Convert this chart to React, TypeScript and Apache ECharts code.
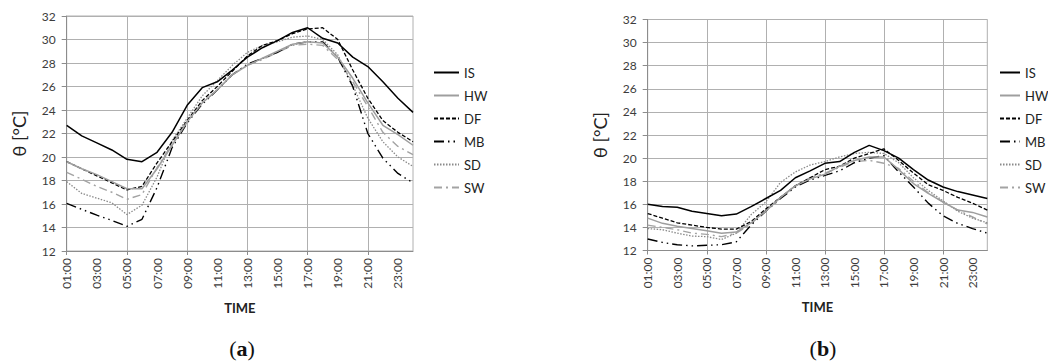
import React, { useEffect, useRef } from "react";
import * as echarts from "echarts";

// ---------- data ----------
const hours = [
  "01:00", "02:00", "03:00", "04:00", "05:00", "06:00", "07:00", "08:00",
  "09:00", "10:00", "11:00", "12:00", "13:00", "14:00", "15:00", "16:00",
  "17:00", "18:00", "19:00", "20:00", "21:00", "22:00", "23:00", "24:00",
];
const seriesNames = ["IS", "HW", "DF", "MB", "SD", "SW"];
const yMin = 12;
const yMax = 32;
const yStep = 2;

// (a)
const IS_A = [22.7, 21.8, 21.2, 20.6, 19.8, 19.6, 20.4, 22.1, 24.4, 25.9, 26.4, 27.4, 28.5, 29.3, 29.9, 30.6, 31.0, 30.1, 29.7, 28.5, 27.7, 26.4, 25.0, 23.8];
const HW_A = [19.6, 19.0, 18.5, 17.9, 17.3, 17.3, 19.0, 21.0, 23.0, 24.6, 25.7, 27.0, 27.8, 28.4, 29.0, 29.6, 29.8, 29.7, 28.5, 26.7, 24.6, 22.7, 21.9, 21.0];
const DF_A = [19.6, 19.0, 18.4, 17.8, 17.2, 17.5, 19.5, 21.3, 23.1, 24.8, 26.0, 27.3, 28.6, 29.5, 29.9, 30.5, 30.9, 31.0, 30.0, 27.4, 25.0, 23.1, 22.1, 21.3];
const MB_A = [16.05, 15.55, 15.05, 14.6, 14.1, 14.7, 17.4, 20.8, 22.9, 24.5, 25.7, 27.0, 27.9, 28.4, 28.9, 29.6, 29.8, 29.8, 28.5, 26.0, 22.0, 19.9, 18.6, 17.8];
const SD_A = [17.9, 16.9, 16.5, 16.1, 15.1, 15.9, 18.3, 21.4, 23.3, 25.2, 26.5, 27.8, 28.9, 29.5, 29.8, 30.2, 30.3, 30.0, 28.7, 26.1, 23.3, 21.3, 20.0, 19.2];
const SW_A = [18.7, 18.1, 17.5, 17.0, 16.4, 16.8, 19.1, 21.1, 23.0, 24.6, 25.7, 27.0, 27.8, 28.3, 28.9, 29.5, 29.6, 29.5, 28.3, 26.4, 24.3, 22.1, 20.9, 20.2];

// (b)
const IS_B = [16.0, 15.8, 15.75, 15.4, 15.2, 15.0, 15.15, 15.8, 16.5, 17.2, 18.3, 18.9, 19.55, 19.7, 20.5, 21.1, 20.65, 20.0, 19.0, 18.1, 17.5, 17.1, 16.8, 16.5];
const HW_B = [14.8, 14.35, 14.1, 13.9, 13.7, 13.5, 13.6, 14.4, 15.4, 16.6, 17.6, 18.2, 18.6, 19.3, 19.8, 20.1, 20.1, 19.0, 17.8, 16.95, 16.2, 15.5, 15.3, 14.9];
const DF_B = [15.2, 14.8, 14.4, 14.2, 14.0, 13.85, 13.85, 14.5, 15.6, 16.6, 17.6, 18.3, 19.0, 19.3, 20.0, 20.4, 20.8, 19.8, 18.7, 17.7, 17.2, 16.6, 16.1, 15.5];
const MB_B = [13.0, 12.7, 12.5, 12.4, 12.45, 12.5, 12.75, 14.2, 15.4, 16.5, 17.5, 18.1, 18.5, 18.9, 19.6, 20.0, 20.2, 18.8, 17.5, 16.1, 15.0, 14.35, 13.9, 13.5];
const SD_B = [13.9, 13.8, 13.5, 13.25, 13.2, 12.95, 13.5, 15.1, 16.2, 17.9, 18.8, 19.4, 19.7, 20.1, 20.4, 20.5, 20.4, 19.6, 18.3, 17.2, 16.3, 15.4, 14.8, 14.4];
const SW_B = [14.2, 14.0, 13.8, 13.5, 13.4, 13.2, 13.5, 14.3, 15.5, 16.6, 17.6, 18.3, 18.7, 19.2, 19.7, 19.8, 19.55, 19.1, 18.0, 17.0, 16.2, 15.5, 14.9, 14.3];

const dataA = [IS_A, HW_A, DF_A, MB_A, SD_A, SW_A];
const dataB = [IS_B, HW_B, DF_B, MB_B, SD_B, SW_B];
const panelLabels = ["a", "b"];
const xName = "TIME";
const yName = "θ [°C]";

// ---------- styles ----------
const lineStyles: Record<string, any> = {
  IS: { color: "#000000", type: "solid", width: 1.5 },
  HW: { color: "#9e9e9e", type: "solid", width: 1.5 },
  DF: { color: "#000000", type: [4, 2], width: 1.3 },
  MB: { color: "#000000", type: [10, 4, 1.5, 4, 1.5, 4], width: 1.4 },
  SD: { color: "#8a8a8a", type: [1.5, 1.5], width: 1.3 },
  SW: { color: "#a3a3a3", type: [8, 4, 2, 4], width: 1.4 },
};

const FONT = "Lato, 'Open Sans', sans-serif";
const GRID_COLOR = "#b0b0b0";
const AXIS_COLOR = "#8c8c8c";
const LABEL_COLOR = "#3c3c3c";

const grids = [
  { left: 66.7, top: 16, width: 346.3, height: 235 },
  { left: 647.7, top: 19.5, width: 339.6, height: 231 },
];
const legendPos = [
  { left: 428, top: 61, itemWidth: 25 },
  { left: 994, top: 61, itemWidth: 20 },
];
const panelLabelCenters = [242, 823];

function makeXAxis(i: number) {
  return {
    type: "category",
    gridIndex: i,
    data: hours,
    boundaryGap: false,
    axisLine: { show: true, lineStyle: { color: AXIS_COLOR, width: 1 } },
    axisTick: { show: true, interval: 3, length: 4, lineStyle: { color: AXIS_COLOR } },
    axisLabel: {
      interval: 1,
      rotate: 90,
      margin: 7,
      color: LABEL_COLOR,
      fontFamily: FONT,
      fontSize: 12,
    },
    splitLine: { show: true, interval: 3, lineStyle: { color: GRID_COLOR, width: 1 } },
    name: xName,
    nameLocation: "middle",
    nameGap: 50,
    nameTextStyle: { fontFamily: FONT, fontSize: 13, fontWeight: "bold", color: "#222" },
  };
}

function makeYAxis(i: number) {
  return {
    type: "value",
    gridIndex: i,
    min: yMin,
    max: yMax,
    interval: yStep,
    axisLine: { show: true, lineStyle: { color: AXIS_COLOR, width: 1 } },
    axisTick: { show: true, length: 5, lineStyle: { color: AXIS_COLOR } },
    axisLabel: { margin: 11, color: LABEL_COLOR, fontFamily: FONT, fontSize: 12 },
    splitLine: { show: true, lineStyle: { color: GRID_COLOR, width: 1 } },
    name: yName,
    nameLocation: "middle",
    nameGap: 39,
    nameTextStyle: { fontFamily: FONT, fontSize: 18, color: "#222" },
  };
}

export default function App() {
  const ref = useRef<HTMLDivElement>(null);
  useEffect(() => {
    if (!ref.current) return;
    const chart = echarts.init(ref.current, undefined, { renderer: "svg" });
    const series: any[] = [];
    [dataA, dataB].forEach((set, gi) => {
      set.forEach((vals, si) => {
        const name = seriesNames[si];
        series.push({
          type: "line",
          name,
          xAxisIndex: gi,
          yAxisIndex: gi,
          data: vals,
          symbol: "none",
          lineStyle: { ...lineStyles[name] },
          itemStyle: { color: lineStyles[name].color },
          z: 10 - si,
        });
      });
    });
    const option: any = {
      animation: false,
      backgroundColor: "#ffffff",
      grid: grids.map((g) => ({
        ...g,
        show: true,
        borderColor: GRID_COLOR,
        borderWidth: 1,
        backgroundColor: "transparent",
      })),
      xAxis: [makeXAxis(0), makeXAxis(1)],
      yAxis: [makeYAxis(0), makeYAxis(1)],
      legend: legendPos.map((p) => ({
        left: p.left,
        top: p.top,
        orient: "vertical",
        data: seriesNames,
        itemWidth: p.itemWidth,
        itemHeight: 14,
        itemGap: 10,
        selectedMode: false,
        itemStyle: { color: "rgba(0,0,0,0)", borderColor: "rgba(0,0,0,0)", borderWidth: 0, opacity: 0 },
        textStyle: { fontFamily: FONT, fontSize: 13, color: "#222" },
      })),
      series,
      graphic: panelLabels.map((l, i) => ({
        type: "text",
        x: panelLabelCenters[i],
        y: 348,
        style: {
          text: "{r|(}{b|" + l + "}{r|)}",
          align: "center",
          verticalAlign: "middle",
          rich: {
            r: { fontFamily: "'Liberation Serif', serif", fontSize: 22, fill: "#111" },
            b: { fontFamily: "'Liberation Serif', serif", fontSize: 22, fontWeight: "bold", fill: "#111" },
          },
        },
      })),
    };
    chart.setOption(option);
    return () => chart.dispose();
  }, []);
  return (
    <div
      ref={ref}
      style={{ position: "absolute", left: 0, top: 0, width: 1048, height: 362, background: "#fff" }}
    />
  );
}
